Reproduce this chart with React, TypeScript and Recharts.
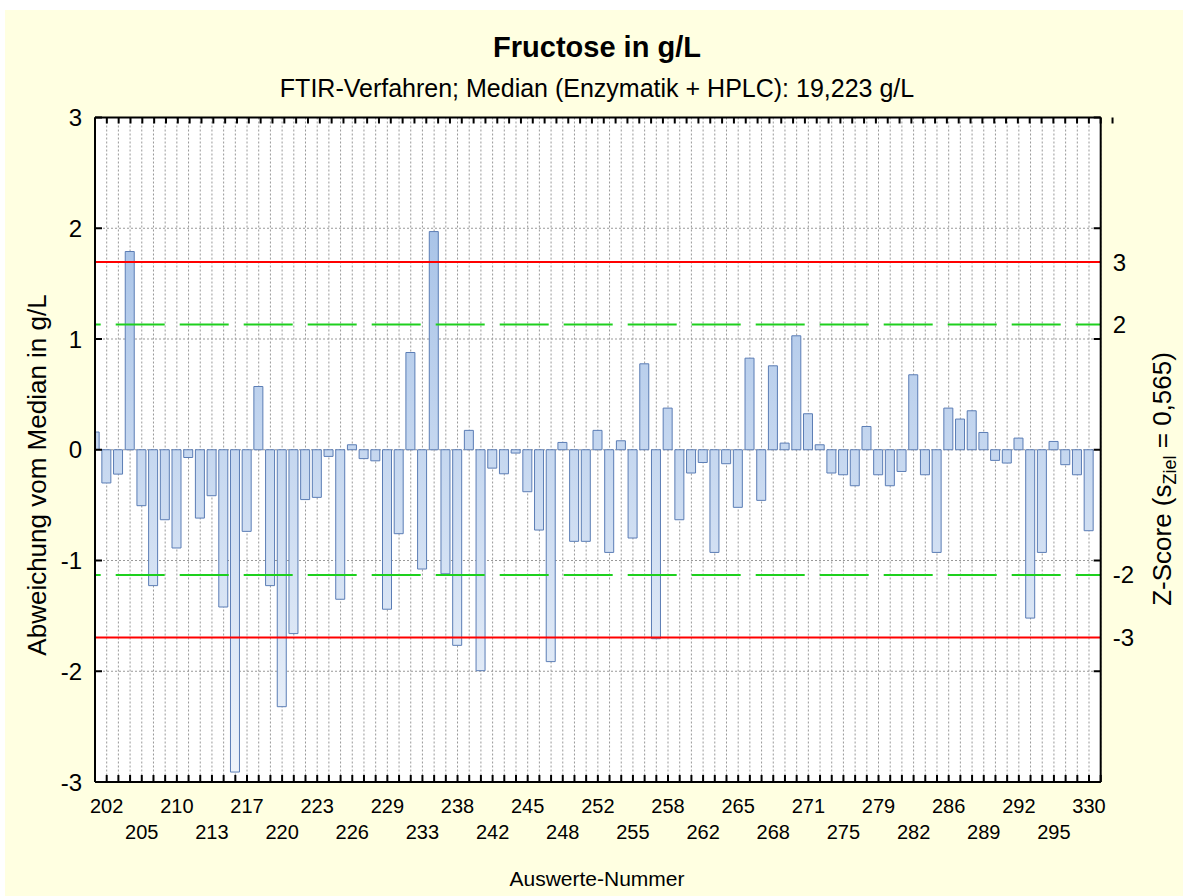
import {
  ComposedChart,
  Bar,
  XAxis,
  YAxis,
  CartesianGrid,
  ReferenceLine,
} from "recharts";

// deviation from median (g/L), one bar per lab, left to right
const deviations = [
  0.16, -0.3, -0.22, 1.79, -0.505, -1.227, -0.632, -0.887, -0.07, -0.617,
  -0.415, -1.42, -2.91, -0.737, 0.571, -1.227, -2.32, -1.66, -0.45, -0.43,
  -0.06, -1.35, 0.045, -0.08, -0.1, -1.44, -0.758, 0.878, -1.077, 1.97,
  -1.12, -1.766, 0.175, -1.995, -0.166, -0.217, -0.03, -0.379, -0.725, -1.913,
  0.066, -0.827, -0.827, 0.175, -0.927, 0.081, -0.797, 0.776, -1.706, 0.376,
  -0.632, -0.21, -0.115, -0.927, -0.126, -0.52, 0.827, -0.457, 0.758, 0.06,
  1.029, 0.325, 0.045, -0.21, -0.226, -0.325, 0.21, -0.226, -0.325, -0.196,
  0.677, -0.226, -0.927, 0.376, 0.277, 0.352, 0.156, -0.096, -0.12, 0.105,
  -1.52, -0.927, 0.075, -0.135, -0.226, -0.731,
];

// "Auswerte-Nummer" labels, shown on every third bar starting at bar 1
const tickLabels = [
  "202", "205", "210", "213", "217", "220", "223", "226", "229", "233",
  "238", "242", "245", "248", "252", "255", "258", "262", "265", "268",
  "271", "275", "279", "282", "286", "289", "292", "295", "330",
];

const yTicks = [-3, -2, -1, 0, 1, 2, 3];
const zTicks = [-3, -2, 2, 3];
const sZiel = 0.565;
const xMax = deviations.length; // one empty slot at the right edge

const xTicks = Array.from({ length: xMax + 1 }, (_, i) => i);
const rows = deviations.map((v, i) => ({ idx: i, v }));

const FONT = '"Liberation Sans", Arial, sans-serif';
const TICK_LEN = 7;
const TICK_W = 2;

const W = 1178;
const H = 886;
const MARGIN = { top: 106.5, right: 2.3, bottom: 54, left: 30 };
const LEFT_W = 60;
const FRAME_W = 1;
const Z_W = 79;
const PLOT_W = W - MARGIN.left - MARGIN.right - LEFT_W - FRAME_W - Z_W;

// ticks point into the plot, so they are drawn here instead of by tickLine
function BottomTick(props: any) {
  const { x, y, payload } = props;
  const i = payload.value;
  const k = (i - 1) / 3;
  const label = Number.isInteger(k) ? tickLabels[k] : undefined;
  return (
    <g>
      <line x1={x} x2={x} y1={y} y2={y - TICK_LEN} stroke="#000" strokeWidth={TICK_W} />
      {label && (
        <text
          x={x}
          y={y + (k % 2 === 0 ? 31 : 57)}
          textAnchor="middle"
          fontSize={20}
          fontFamily={FONT}
          fill="#000"
        >
          {label}
        </text>
      )}
    </g>
  );
}

function TopTick(props: any) {
  const { x, y } = props;
  return <line x1={x} x2={x} y1={y} y2={y + 6} stroke="#000" strokeWidth={TICK_W} />;
}

// left tick + label, plus the mirrored tick on the right frame
function LeftTick(props: any) {
  const { x, y, payload } = props;
  const xr = x + PLOT_W;
  return (
    <g>
      <line x1={x} x2={x + TICK_LEN} y1={y} y2={y} stroke="#000" strokeWidth={TICK_W} />
      <line x1={xr - TICK_LEN} x2={xr} y1={y} y2={y} stroke="#000" strokeWidth={TICK_W} />
      <text
        x={x - 13}
        y={y}
        dy="0.36em"
        textAnchor="end"
        fontSize={24}
        fontFamily={FONT}
        fill="#000"
      >
        {payload.value}
      </text>
    </g>
  );
}

export default function App() {
  const axisStyle = { stroke: "#000", strokeWidth: 2 };

  return (
    <div
      style={{
        position: "absolute",
        left: 5,
        top: 10,
        width: W,
        height: H,
        background: "#ffffe1",
      }}
    >
      <ComposedChart width={W} height={H} data={rows} margin={MARGIN}>
        <defs>
          <linearGradient
            id="barGrad"
            gradientUnits="userSpaceOnUse"
            x1="0"
            y1="107"
            x2="0"
            y2="772"
          >
            <stop offset="0" stopColor="#9bbae4" />
            <stop offset="1" stopColor="#eff4fb" />
          </linearGradient>
        </defs>
        <CartesianGrid fill="#fff" stroke="#999" strokeDasharray="2 2" />
        <XAxis
          dataKey="idx"
          type="number"
          domain={[0, xMax]}
          ticks={xTicks}
          interval={0}
          allowDataOverflow
          height={60}
          axisLine={axisStyle}
          tickLine={false}
          tickSize={0}
          tickMargin={0}
          tick={<BottomTick />}
        />
        <XAxis
          xAxisId="top"
          orientation="top"
          type="number"
          domain={[0, xMax]}
          ticks={xTicks}
          interval={0}
          allowDataOverflow
          height={1}
          axisLine={axisStyle}
          tickLine={false}
          tickSize={0}
          tickMargin={0}
          tick={<TopTick />}
        />
        <YAxis
          type="number"
          domain={[-3, 3]}
          ticks={yTicks}
          interval={0}
          allowDataOverflow
          width={LEFT_W}
          axisLine={axisStyle}
          tickLine={false}
          tickSize={0}
          tickMargin={0}
          tick={<LeftTick />}
        />
        <YAxis
          yAxisId="rt"
          orientation="right"
          type="number"
          domain={[-3, 3]}
          ticks={yTicks}
          interval={0}
          allowDataOverflow
          width={FRAME_W}
          axisLine={axisStyle}
          tickLine={false}
          tick={false}
        />
        <YAxis
          yAxisId="z"
          orientation="right"
          type="number"
          domain={[-3 / sZiel, 3 / sZiel]}
          ticks={zTicks}
          interval={0}
          allowDataOverflow
          width={Z_W}
          axisLine={false}
          tickLine={false}
          tickSize={0}
          tickMargin={11}
          tick={{ fontSize: 24, fontFamily: FONT, fill: "#000", textAnchor: "start" }}
        />
        <Bar
          dataKey="v"
          barSize={9}
          fill="url(#barGrad)"
          stroke="#5b7db5"
          strokeWidth={1}
          isAnimationActive={false}
        />
        {[2, -2].map((z) => (
          <ReferenceLine
            key={"g" + z}
            yAxisId="z"
            y={z}
            stroke="#1ed01e"
            strokeWidth={2}
            strokeDasharray="49 15"
            strokeDashoffset={24}
          />
        ))}
        {[3, -3].map((z) => (
          <ReferenceLine
            key={"r" + z}
            yAxisId="z"
            y={z}
            stroke="#ff0000"
            strokeWidth={2}
          />
        ))}
      </ComposedChart>
      <svg
        width={W}
        height={H}
        style={{ position: "absolute", left: 0, top: 0, pointerEvents: "none" }}
        fontFamily={FONT}
      >
        <text x={592} y={47} textAnchor="middle" fontSize={29} fontWeight="bold">
          Fructose in g/L
        </text>
        <text x={592} y={87} textAnchor="middle" fontSize={25}>
          FTIR-Verfahren; Median (Enzymatik + HPLC): 19,223 g/L
        </text>
        <text x={592} y={876} textAnchor="middle" fontSize={21}>
          Auswerte-Nummer
        </text>
        <text
          transform="translate(41,465) rotate(-90)"
          textAnchor="middle"
          fontSize={26}
        >
          Abweichung vom Median in g/L
        </text>
        <text
          transform="translate(1166,469) rotate(-90)"
          textAnchor="middle"
          fontSize={26}
        >
          Z-Score (s
          <tspan fontSize={18} dy={5}>
            Ziel
          </tspan>
          <tspan dy={-5}> = 0,565)</tspan>
        </text>
      </svg>
    </div>
  );
}
